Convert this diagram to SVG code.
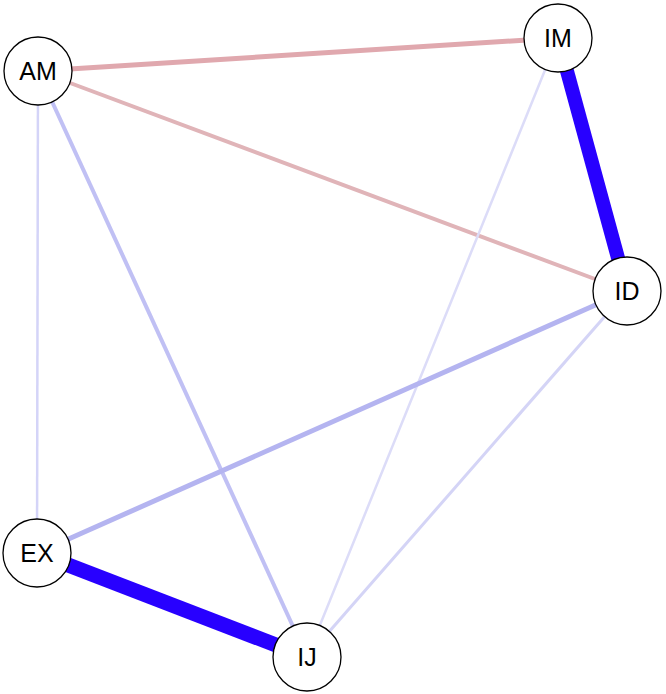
<svg xmlns="http://www.w3.org/2000/svg" width="666" height="694" viewBox="0 0 666 694">
<style>
.n circle{fill:#fff;stroke:#000;stroke-width:1.3}
.n text{font-family:"Liberation Sans",Arial,sans-serif;font-size:25px;text-anchor:middle;dominant-baseline:central;fill:#000}
#edges line{stroke-linecap:butt}
</style>
<rect width="666" height="694" fill="#fff"/>
<g id="edges">
<line x1="38" y1="71" x2="558" y2="38" stroke="#e0a8ae" stroke-width="5"/>
<line x1="38" y1="71" x2="627" y2="291" stroke="#e0b4b8" stroke-width="4"/>
<line x1="558" y1="38" x2="627" y2="291" stroke="#2800ff" stroke-width="14"/>
<line x1="38" y1="71" x2="37" y2="553" stroke="#d4d4f8" stroke-width="2.5"/>
<line x1="38" y1="71" x2="307" y2="657" stroke="#c0c0f4" stroke-width="4"/>
<line x1="558" y1="38" x2="307" y2="657" stroke="#dcdcf8" stroke-width="2.5"/>
<line x1="627" y1="291" x2="37" y2="553" stroke="#b4b4f0" stroke-width="5"/>
<line x1="627" y1="291" x2="307" y2="657" stroke="#d4d4f6" stroke-width="3"/>
<line x1="37" y1="553" x2="307" y2="657" stroke="#2800ff" stroke-width="15"/>
</g>
<g id="AM" class="n"><circle cx="38" cy="71" r="34"/><text x="38" y="71">AM</text></g>
<g id="IM" class="n"><circle cx="558" cy="38" r="34"/><text x="558" y="38">IM</text></g>
<g id="ID" class="n"><circle cx="627" cy="291" r="34"/><text x="627" y="291">ID</text></g>
<g id="EX" class="n"><circle cx="37" cy="553" r="34"/><text x="37" y="553">EX</text></g>
<g id="IJ" class="n"><circle cx="307" cy="657" r="34"/><text x="307" y="657">IJ</text></g>
</svg>
